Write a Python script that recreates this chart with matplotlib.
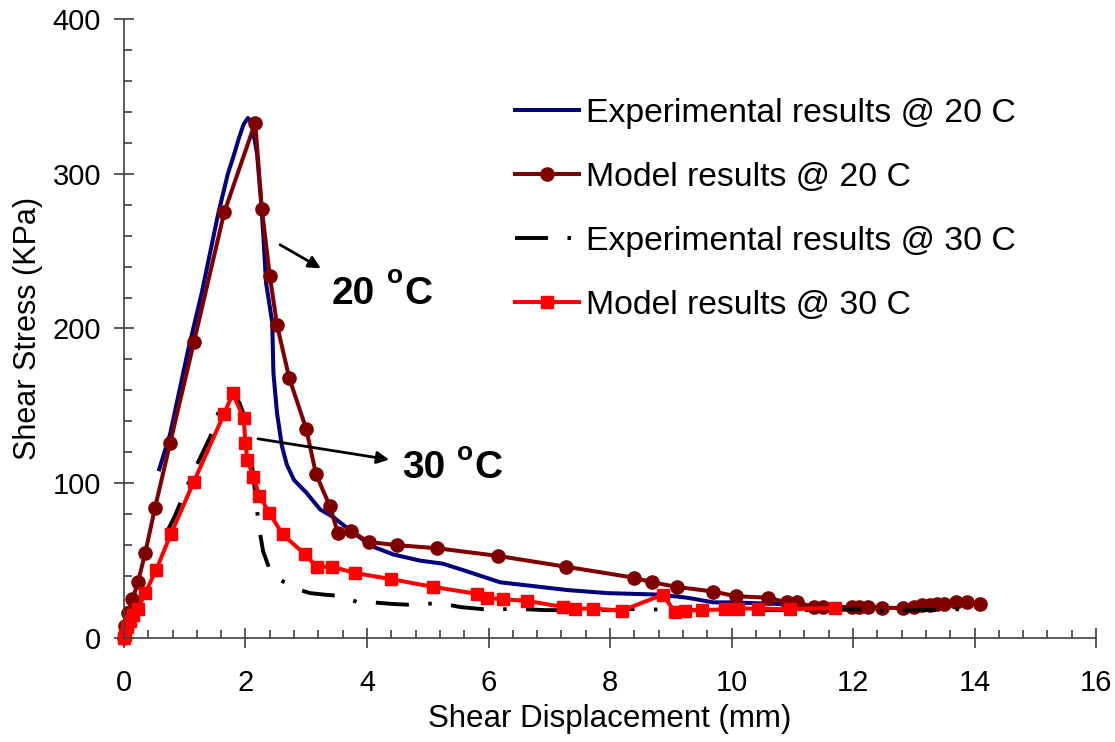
import matplotlib
matplotlib.use('Agg')
import matplotlib.pyplot as plt
from matplotlib.ticker import MultipleLocator

plt.rcParams['font.family'] = ['Liberation Sans', 'DejaVu Sans']

# experimental results @ 20 C (blue)
exp20_x = [0.58, 0.76, 1.05, 1.28, 1.55, 1.71, 1.8, 1.9, 1.97, 2.04, 2.1, 2.19, 2.25, 2.29, 2.34,
           2.44, 2.46, 2.52, 2.6, 2.68, 2.8, 3.0, 3.23, 3.45, 3.77, 4.1, 4.43, 4.87, 5.25, 5.65,
           6.19, 6.63, 7.29, 7.95, 8.82, 9.27, 9.7, 10.0, 10.75, 11.2, 11.6]
exp20_y = [109, 132, 185, 223, 274, 300, 311, 324, 332, 336, 333, 313, 285, 262, 229,
           204, 171, 145, 124, 112, 102, 94, 83, 78, 68, 59, 54, 50, 48, 43,
           36, 34, 31, 29, 28, 26, 23, 23, 22, 21, 20]

# model results @ 20 C (dark red circles)
mod20_x = [0.0, 0.02, 0.07, 0.14, 0.23, 0.35, 0.51, 0.76, 1.15, 1.65, 2.16, 2.27, 2.4, 2.52, 2.72,
           3.0, 3.16, 3.39, 3.52, 3.74, 4.03, 4.49, 5.15, 6.16, 7.28, 8.39, 8.69, 9.1, 9.7, 10.07,
           10.6, 10.91, 11.08, 11.35, 11.5, 11.99, 12.1, 12.25, 12.48, 12.82, 13.0, 13.14, 13.27,
           13.38, 13.49, 13.7, 13.88, 14.09]
mod20_y = [0, 8, 16, 25, 36, 55, 84, 126, 191, 275, 333, 277, 234, 202, 168,
           135, 106, 85, 68, 69, 62, 60, 58, 53, 46, 39, 36, 33, 30, 27,
           26, 23, 23, 20, 20, 20, 20, 20, 19.5, 19.4, 20, 21, 21,
           22, 22, 23, 23, 22]

# experimental results @ 30 C (black dashed)
exp30_x = [0.7, 0.84, 1.05, 1.2, 1.42, 1.53, 1.63, 1.78, 1.9, 2.02, 2.07, 2.12, 2.17, 2.22, 2.29,
           2.4, 2.55, 2.78, 2.9, 3.06, 3.3, 3.6, 3.85, 4.1, 4.41, 4.68, 5.2, 5.53, 5.8, 6.07,
           6.39, 6.93, 7.5, 8.0, 8.33, 8.66, 9.2, 9.8, 10.4, 11.0, 11.6, 12.2, 12.6, 13.0, 13.5, 13.9]
exp30_y = [68, 79, 99, 112, 130, 143, 154, 158, 152, 139, 124, 107, 90, 72, 56,
           44, 38, 33, 31, 29, 28, 27, 23, 23, 22, 21.5, 22.5, 20, 19, 18,
           19, 18, 18, 18, 18.7, 18.5, 18, 18, 18, 18, 18, 18.5, 17, 18, 18, 19]

# model results @ 30 C (red squares)
mod30_x = [0.0, 0.02, 0.05, 0.1, 0.15, 0.23, 0.35, 0.53, 0.77, 1.15, 1.65, 1.79, 1.97, 2.0, 2.03,
           2.13, 2.23, 2.39, 2.61, 2.98, 3.17, 3.43, 3.8, 4.4, 5.09, 5.81, 5.97, 6.24, 6.63, 7.23,
           7.42, 7.72, 8.2, 8.87, 9.07, 9.23, 9.51, 9.89, 10.1, 10.44, 10.96, 11.7]
mod30_y = [0, 2, 7, 11, 15, 19, 29, 44, 67, 101, 145, 158, 142, 126, 115,
           104, 92, 81, 67, 54, 46, 46, 42, 38, 33, 28.5, 26, 25, 24, 20,
           19, 19, 17.7, 28, 16.7, 17.7, 18, 18.5, 19, 19, 18.5, 19.5]

fig = plt.figure(figsize=(11.15, 7.42), dpi=100)
ax = fig.add_axes([0.1112, 0.1402, 0.8718, 0.8342])

ax.plot(exp20_x, exp20_y, color='#000080', lw=2.9, label='Experimental results @ 20 C')
ax.plot(mod20_x, mod20_y, color='#800000', lw=2.9, marker='o', ms=9.5,
        label='Model results @ 20 C', clip_on=False)
ax.plot(exp30_x, exp30_y, color='black', lw=2.8, linestyle=(0, (8.5, 5, 0.9, 5)),
        label='Experimental results @ 30 C')
ax.plot(mod30_x, mod30_y, color='#FF0000', lw=2.9, marker='s', ms=9,
        label='Model results @ 30 C', clip_on=False)

# arrows + temperature labels
ax.annotate('', xy=(3.28, 238), xytext=(2.53, 255),
            arrowprops=dict(arrowstyle='-|>', color='black', lw=2, mutation_scale=18))
ax.annotate('', xy=(4.41, 115), xytext=(2.16, 129),
            arrowprops=dict(arrowstyle='-|>', color='black', lw=2, mutation_scale=18))
ax.text(3.42, 215.8, '20', fontsize=28, fontweight='bold', va='baseline')
ax.text(4.33, 229.4, 'o', fontsize=19, fontweight='bold', va='baseline')
ax.text(4.62, 215.8, 'C', fontsize=28, fontweight='bold', va='baseline')
ax.text(4.57, 103.4, '30', fontsize=28, fontweight='bold', va='baseline')
ax.text(5.48, 115.0, 'o', fontsize=19, fontweight='bold', va='baseline')
ax.text(5.77, 103.4, 'C', fontsize=28, fontweight='bold', va='baseline')

ax.set_xlim(0, 16)
ax.set_ylim(0, 400)
ax.xaxis.set_major_locator(MultipleLocator(2))
ax.xaxis.set_minor_locator(MultipleLocator(0.4))
ax.yaxis.set_major_locator(MultipleLocator(100))
ax.yaxis.set_minor_locator(MultipleLocator(20))
ax.tick_params(which='major', direction='inout', length=15, width=1.2, color='#404040',
               labelsize=21)
ax.tick_params(axis='x', which='major', pad=15)
ax.tick_params(axis='y', which='major', pad=9)
ax.tick_params(which='minor', direction='in', length=6, width=1.2, color='#404040')

for s in ['top', 'right']:
    ax.spines[s].set_visible(False)
for s in ['left', 'bottom']:
    ax.spines[s].set_color('#404040')
    ax.spines[s].set_linewidth(1.2)

ax.set_xlabel('Shear Displacement (mm)', fontsize=22.5, labelpad=5)
ax.set_ylabel('Shear Stress (KPa)', fontsize=22, labelpad=7)

ax.legend(loc='upper left', bbox_to_anchor=(0.462, 0.868), bbox_transform=fig.transFigure,
          frameon=False, fontsize=24.3, numpoints=1, handlelength=1.9, handletextpad=0.2,
          labelspacing=0.98, borderpad=0, borderaxespad=0)

fig.savefig('out.png', dpi=100)
